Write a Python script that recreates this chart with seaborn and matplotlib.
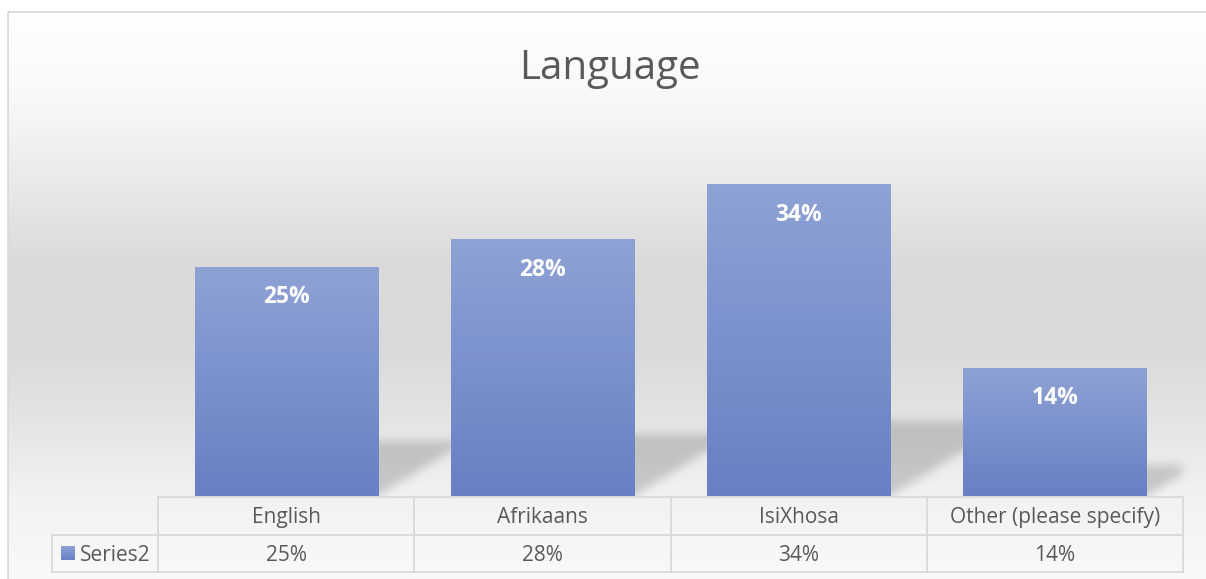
import numpy as np
import pandas as pd
import matplotlib
matplotlib.use("Agg")
import matplotlib.pyplot as plt
import seaborn as sns
from matplotlib.path import Path

# ---- data ----
categories = ["English", "Afrikaans", "IsiXhosa", "Other (please specify)"]
values = [25, 28, 34, 14]
value_labels = [f"{v}%" for v in values]
series_name = "Series2"
title = "Language"

W, H = 1206, 579
sns.set_theme(style="white")
plt.rcParams["font.family"] = ["Open Sans", "DejaVu Sans"]

TEXT = "#595959"
LINE = "#d9d9d9"
BAR_TOP = np.array([0x8F, 0xA2, 0xD5]) / 255
BAR_BOT = np.array([0x67, 0x80, 0xC4]) / 255


def px_rect(x0, y0, x1, y1):
    """Pixel box (top-left origin) -> figure-fraction rect."""
    return [x0 / W, 1 - y1 / H, (x1 - x0) / W, (y1 - y0) / H]


def vgrad(n=256):
    t = np.linspace(0, 1, n)[:, None, None]
    return BAR_TOP * (1 - t) + BAR_BOT * t


def box_blur(a, r):
    k = 2 * r + 1
    p = np.pad(a, ((r, r), (0, 0)), mode="edge")
    c = np.vstack([np.zeros((1, a.shape[1])), np.cumsum(p, axis=0)])
    a = (c[k:] - c[:-k]) / k
    p = np.pad(a, ((0, 0), (r, r)), mode="edge")
    c = np.hstack([np.zeros((a.shape[0], 1)), np.cumsum(p, axis=1)])
    return (c[:, k:] - c[:, :-k]) / k


fig = plt.figure(figsize=(W / 100, H / 100), dpi=100)
fig.patch.set_facecolor("white")

# background / table layer in pixel coordinates
bg_ax = fig.add_axes([0, 0, 1, 1], zorder=0)
bg_ax.set_xlim(0, W)
bg_ax.set_ylim(H, 0)
bg_ax.axis("off")

# plot area
PLOT_L, PLOT_T, PLOT_R, PLOT_B = 158, 129, 1183, 496
ax = fig.add_axes(px_rect(PLOT_L, PLOT_T, PLOT_R, PLOT_B), zorder=1)
df = pd.DataFrame({"Language": categories, "Share": values})
sns.barplot(data=df, x="Language", y="Share", width=0.715, color=BAR_BOT,
            saturation=1, edgecolor="none", ax=ax)

# gradient fill clipped to each bar
for p in ax.patches:
    x0, y0, w, h = p.get_x(), p.get_y(), p.get_width(), p.get_height()
    im = ax.imshow(vgrad(), extent=(x0, x0 + w, y0, y0 + h), origin="upper",
                   aspect="auto", interpolation="bilinear",
                   zorder=p.get_zorder() + 0.1)
    im.set_clip_path(p)
ax.set_xlim(-0.5, len(categories) - 0.5)
ax.set_ylim(0, 40)
ax.axis("off")

# value labels inside the bars
for i, (v, lab) in enumerate(zip(values, value_labels)):
    ax.annotate(lab, xy=(i, v), xytext=(0, -22), textcoords="offset points",
                ha="center", va="center", color="white", fontsize=16.5,
                fontweight="bold", zorder=5)

# ---- chart-area background with soft floor shadows ----
yy = np.arange(H) + 0.5
stops_y = [12, 100, 170, 260, 340, 420, 496, 579]
stops_v = [255, 248, 236, 219, 217, 228, 242, 249]
col = np.interp(yy, stops_y, stops_v) / 255
bg = np.repeat(col[:, None], W, axis=1)

gx, gy = np.meshgrid(np.arange(W) + 0.5, np.arange(H) + 0.5)
pts = np.column_stack([gx.ravel(), gy.ravel()])
mask = np.zeros((H, W))
for p in ax.patches:
    (dx0, dy0) = ax.transData.transform((p.get_x(), p.get_y()))
    (dx1, dy1) = ax.transData.transform((p.get_x() + p.get_width(),
                                         p.get_y() + p.get_height()))
    bx0, bx1 = dx0, dx1
    bot, top = H - dy0, H - dy1
    hpx = bot - top
    sx, sy = 0.39 * hpx, 0.24 * hpx
    poly = Path([(bx0, bot), (bx1, bot), (bx1 + sx, bot - sy),
                 (bx0 + sx, bot - sy), (bx0, bot)])
    mask = np.maximum(mask, poly.contains_points(pts).reshape(H, W))
mask[:, int(PLOT_R):] = 0
for _ in range(3):
    mask = box_blur(mask, 4)
mask[int(PLOT_B) + 1:, :] = 0
bg = bg * (1 - 0.17 * mask)
bg[:12, :] = 1
bg[:, :8] = 1
rgb = np.dstack([bg, bg, bg])
bg_ax.imshow(rgb, extent=(0, W, H, 0), origin="upper", aspect="auto",
             interpolation="nearest", zorder=0)

# chart border
bg_ax.plot([8, 8], [12, H], color=LINE, lw=1.3, zorder=2, solid_capstyle="butt")
bg_ax.plot([8, W], [12, 12], color=LINE, lw=1.3, zorder=2, solid_capstyle="butt")

# title
bg_ax.text(610, 79, title, ha="center", va="baseline", fontsize=29,
           color=TEXT, zorder=3)

# ---- data table ----
bounds = [ax.transData.transform((i - 0.5, 0))[0] for i in range(len(categories) + 1)]
ROW0, ROW1, ROW2 = 497, 535, 572
KEY_L = 52
lw = 1.3
bg_ax.plot([bounds[0], bounds[-1]], [ROW0, ROW0], color=LINE, lw=lw, zorder=2)
bg_ax.plot([KEY_L, bounds[-1]], [ROW1, ROW1], color=LINE, lw=lw, zorder=2)
bg_ax.plot([KEY_L, bounds[-1]], [ROW2, ROW2], color=LINE, lw=lw, zorder=2)
for bx in bounds:
    bg_ax.plot([bx, bx], [ROW0, ROW2], color=LINE, lw=lw, zorder=2)
bg_ax.plot([KEY_L, KEY_L], [ROW1, ROW2], color=LINE, lw=lw, zorder=2)

for i, (cat, lab) in enumerate(zip(categories, value_labels)):
    cx = (bounds[i] + bounds[i + 1]) / 2
    bg_ax.text(cx, 523, cat, ha="center", va="baseline", fontsize=15,
               color=TEXT, zorder=3)
    bg_ax.text(cx, 561, lab, ha="center", va="baseline", fontsize=15,
               color=TEXT, zorder=3)

# legend key + series name
bg_ax.imshow(vgrad(), extent=(61, 75, 560, 546), origin="upper",
             aspect="auto", interpolation="bilinear", zorder=3)
bg_ax.text(80, 561, series_name, ha="left", va="baseline", fontsize=15,
           color=TEXT, zorder=3)
bg_ax.set_xlim(0, W)
bg_ax.set_ylim(H, 0)

fig.savefig("out.png", dpi=100, facecolor="white")
